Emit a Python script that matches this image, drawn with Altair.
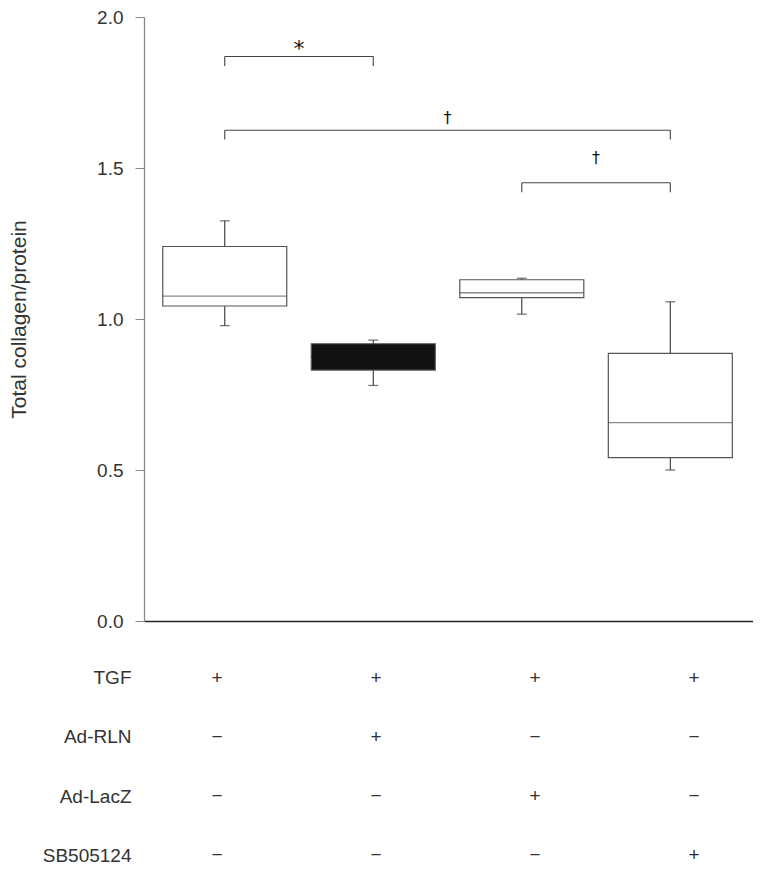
import altair as alt
import pandas as pd

# ---- box plot values ----
groups = [1, 2, 3, 4]
whisker_low = [0.978, 0.780, 1.016, 0.500]
q1 = [1.043, 0.831, 1.071, 0.541]
median = [1.076, 0.875, 1.087, 0.657]
q3 = [1.240, 0.918, 1.130, 0.886]
whisker_high = [1.325, 0.930, 1.135, 1.057]

# ---- significance brackets ----
br_from = [1, 1, 3]
br_to = [2, 4, 4]
br_y = [1.869, 1.625, 1.451]
br_label = ["*", "\u2020", "\u2020"]
br_label_y = [1.895, 1.666, 1.534]

# ---- treatment table ----
row_names = ["TGF", "Ad-RLN", "Ad-LacZ", "SB505124"]
tgf = ["+", "+", "+", "+"]
ad_rln = ["\u2212", "+", "\u2212", "\u2212"]
ad_lacz = ["\u2212", "\u2212", "+", "\u2212"]
sb505124 = ["\u2212", "\u2212", "\u2212", "+"]

FONT = "Liberation Sans"
W = 609
H = 604
YTITLE = "Total collagen/protein"

box_df = pd.DataFrame({"group": groups, "lo": whisker_low, "q1": q1,
                       "med": median, "q3": q3, "hi": whisker_high})
br_df = pd.DataFrame({"a": br_from, "b": br_to, "y": br_y,
                      "label": br_label, "ly": br_label_y})

xscale = alt.Scale(domain=[0.49, 4.523], nice=False, zero=False)
yscale = alt.Scale(domain=[0, 2], nice=False)

xaxis = alt.Axis(labels=False, ticks=False, grid=False,
                 domainColor="#222", domainWidth=1.3)
yaxis = alt.Axis(values=[0, 0.5, 1, 1.5, 2],
                 format=".1f", tickSize=9, labelPadding=12, grid=False,
                 domainColor="#888", tickColor="#888", domainWidth=1.3,
                 labelFontSize=19, labelColor="#333", labelFont=FONT,
                 titleFontSize=21, titleFont=FONT, titleFontWeight="normal",
                 titleColor="#333", titlePadding=67)


def X(field):
    return alt.X(field, scale=xscale, axis=xaxis, title=None)


def Y(field):
    return alt.Y(field, scale=yscale, axis=yaxis, title=YTITLE)


base = alt.Chart(box_df)

whisker = base.mark_rule(color="#333", strokeWidth=1.1).encode(
    x=X("group:Q"), y=Y("lo:Q"), y2="hi:Q",
)

cap_lo = base.mark_tick(orient="horizontal", size=10, thickness=1.2, color="#333").encode(
    x=X("group:Q"), y=Y("lo:Q"),
)
cap_hi = base.mark_tick(orient="horizontal", size=10, thickness=1.2, color="#333").encode(
    x=X("group:Q"), y=Y("hi:Q"),
)

box = base.mark_bar(size=124, stroke="#555", strokeWidth=1.2).encode(
    x=X("group:Q"), y=Y("q1:Q"), y2="q3:Q",
    fill=alt.condition(alt.datum.group == 2, alt.value("#111"), alt.value("white")),
)

med = base.mark_tick(orient="horizontal", size=124, thickness=1.3).encode(
    x=X("group:Q"), y=Y("med:Q"),
    color=alt.condition(alt.datum.group == 2, alt.value("#111"), alt.value("#555")),
)

brb = alt.Chart(br_df)
br_h = brb.mark_rule(color="#444", strokeWidth=1.1).encode(
    x=X("a:Q"), x2="b:Q", y=Y("y:Q"),
)
br_l = brb.transform_calculate(yb="datum.y - 0.031").mark_rule(color="#444", strokeWidth=1.1).encode(
    x=X("a:Q"), y=Y("y:Q"), y2="yb:Q",
)
br_r = brb.transform_calculate(yb="datum.y - 0.031").mark_rule(color="#444", strokeWidth=1.1).encode(
    x=X("b:Q"), y=Y("y:Q"), y2="yb:Q",
)
br_t = brb.transform_calculate(mid="(datum.a + datum.b) / 2").mark_text(
    font="DejaVu Sans", color="#111", baseline="middle").encode(
    x=X("mid:Q"), y=Y("ly:Q"), text="label:N",
    size=alt.condition(alt.datum.label == "*", alt.value(22), alt.value(16)),
)

main = alt.layer(whisker, cap_lo, cap_hi, box, med, br_h, br_l, br_r, br_t).properties(
    width=W, height=H)

# ---- table ----
recs = []
for r, signs in zip(row_names, [tgf, ad_rln, ad_lacz, sb505124]):
    for g, s in zip(groups, signs):
        recs.append({"row": r, "col": g, "sign": s})
tdf = pd.DataFrame(recs)

table = alt.Chart(tdf).mark_text(fontSize=19, font=FONT, color="#333").encode(
    x=alt.X("col:Q", scale=alt.Scale(domain=[0.541, 4.371], nice=False, zero=False), axis=None),
    y=alt.Y("row:N", sort=row_names, scale=alt.Scale(type="point", padding=0.1),
            axis=alt.Axis(title=None, domain=False, ticks=False, labelPadding=13,
                          labelFontSize=19, labelFont=FONT,
                          labelColor="#333", labelLimit=0)),
    text="sign:N",
).properties(width=W, height=189)

chart = alt.vconcat(main, table, spacing=37).resolve_scale(
    x="independent", y="independent"
).properties(
    padding={"left": 0, "top": 0, "right": 0, "bottom": 0}
).configure_view(stroke=None)

chart.save("out.html", embed_options={"renderer": "svg", "actions": False})
